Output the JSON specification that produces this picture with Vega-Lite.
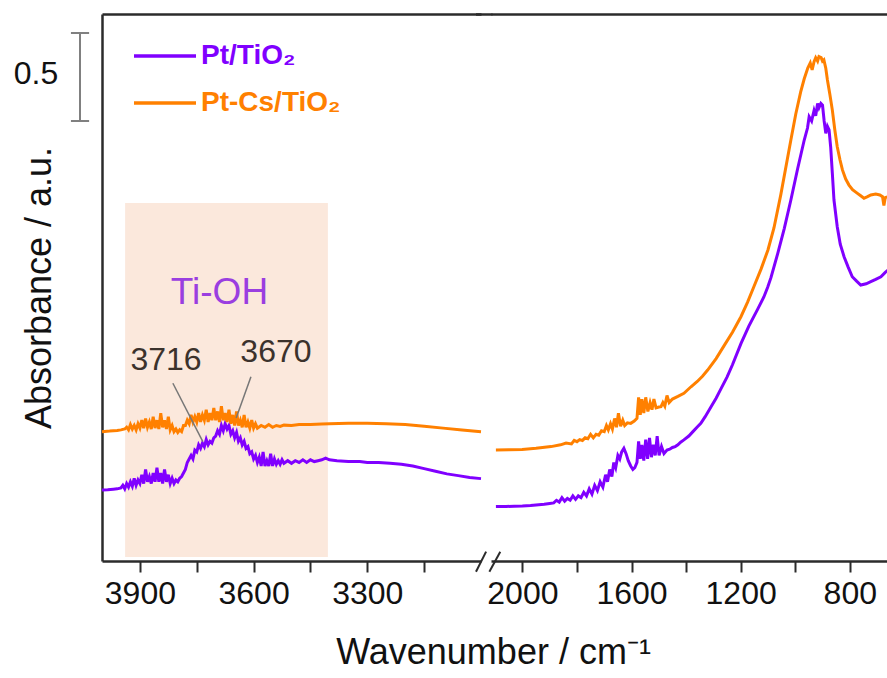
{
  "$schema": "https://vega.github.io/schema/vega-lite/v6.json",
  "padding": {"left": 13, "top": 13, "right": 0, "bottom": 6},
  "background": "white",
  "config": {
    "view": {"stroke": null},
    "font": "Liberation Sans",
    "axis": {"domainColor": "#2b2b2b", "domainWidth": 2.5, "tickColor": "#2b2b2b", "tickWidth": 2, "labelFont": "Liberation Sans", "titleFont": "Liberation Sans", "labelColor": "#111", "titleColor": "#111", "grid": false}
  },
  "datasets": {
    "left": [
      {"w":4000,"a":0.403,"s":"Pt/TiO₂"},{"w":3985,"a":0.405,"s":"Pt/TiO₂"},{"w":3970,"a":0.408,"s":"Pt/TiO₂"},{"w":3960,"a":0.41,"s":"Pt/TiO₂"},{"w":3950,"a":0.415,"s":"Pt/TiO₂"},{"w":3945,"a":0.43,"s":"Pt/TiO₂"},{"w":3940,"a":0.41,"s":"Pt/TiO₂"},{"w":3935,"a":0.44,"s":"Pt/TiO₂"},{"w":3930,"a":0.42,"s":"Pt/TiO₂"},{"w":3925,"a":0.45,"s":"Pt/TiO₂"},{"w":3920,"a":0.425,"s":"Pt/TiO₂"},{"w":3915,"a":0.47,"s":"Pt/TiO₂"},{"w":3910,"a":0.43,"s":"Pt/TiO₂"},{"w":3905,"a":0.46,"s":"Pt/TiO₂"},{"w":3900,"a":0.44,"s":"Pt/TiO₂"},{"w":3895,"a":0.49,"s":"Pt/TiO₂"},{"w":3890,"a":0.44,"s":"Pt/TiO₂"},{"w":3885,"a":0.52,"s":"Pt/TiO₂"},{"w":3880,"a":0.45,"s":"Pt/TiO₂"},{"w":3875,"a":0.48,"s":"Pt/TiO₂"},{"w":3870,"a":0.44,"s":"Pt/TiO₂"},{"w":3865,"a":0.5,"s":"Pt/TiO₂"},{"w":3860,"a":0.45,"s":"Pt/TiO₂"},{"w":3855,"a":0.53,"s":"Pt/TiO₂"},{"w":3850,"a":0.45,"s":"Pt/TiO₂"},{"w":3845,"a":0.5,"s":"Pt/TiO₂"},{"w":3840,"a":0.44,"s":"Pt/TiO₂"},{"w":3835,"a":0.52,"s":"Pt/TiO₂"},{"w":3830,"a":0.45,"s":"Pt/TiO₂"},{"w":3825,"a":0.49,"s":"Pt/TiO₂"},{"w":3820,"a":0.44,"s":"Pt/TiO₂"},{"w":3815,"a":0.47,"s":"Pt/TiO₂"},{"w":3810,"a":0.44,"s":"Pt/TiO₂"},{"w":3805,"a":0.46,"s":"Pt/TiO₂"},{"w":3800,"a":0.45,"s":"Pt/TiO₂"},{"w":3795,"a":0.47,"s":"Pt/TiO₂"},{"w":3790,"a":0.48,"s":"Pt/TiO₂"},{"w":3785,"a":0.5,"s":"Pt/TiO₂"},{"w":3780,"a":0.52,"s":"Pt/TiO₂"},{"w":3775,"a":0.56,"s":"Pt/TiO₂"},{"w":3770,"a":0.58,"s":"Pt/TiO₂"},{"w":3765,"a":0.6,"s":"Pt/TiO₂"},{"w":3760,"a":0.58,"s":"Pt/TiO₂"},{"w":3755,"a":0.63,"s":"Pt/TiO₂"},{"w":3750,"a":0.62,"s":"Pt/TiO₂"},{"w":3745,"a":0.66,"s":"Pt/TiO₂"},{"w":3740,"a":0.64,"s":"Pt/TiO₂"},{"w":3735,"a":0.67,"s":"Pt/TiO₂"},{"w":3730,"a":0.65,"s":"Pt/TiO₂"},{"w":3725,"a":0.69,"s":"Pt/TiO₂"},{"w":3720,"a":0.66,"s":"Pt/TiO₂"},{"w":3715,"a":0.68,"s":"Pt/TiO₂"},{"w":3710,"a":0.67,"s":"Pt/TiO₂"},{"w":3705,"a":0.7,"s":"Pt/TiO₂"},{"w":3700,"a":0.71,"s":"Pt/TiO₂"},{"w":3695,"a":0.74,"s":"Pt/TiO₂"},{"w":3690,"a":0.72,"s":"Pt/TiO₂"},{"w":3685,"a":0.77,"s":"Pt/TiO₂"},{"w":3680,"a":0.74,"s":"Pt/TiO₂"},{"w":3675,"a":0.78,"s":"Pt/TiO₂"},{"w":3670,"a":0.75,"s":"Pt/TiO₂"},{"w":3665,"a":0.77,"s":"Pt/TiO₂"},{"w":3660,"a":0.72,"s":"Pt/TiO₂"},{"w":3655,"a":0.74,"s":"Pt/TiO₂"},{"w":3650,"a":0.7,"s":"Pt/TiO₂"},{"w":3645,"a":0.73,"s":"Pt/TiO₂"},{"w":3640,"a":0.68,"s":"Pt/TiO₂"},{"w":3635,"a":0.7,"s":"Pt/TiO₂"},{"w":3630,"a":0.66,"s":"Pt/TiO₂"},{"w":3625,"a":0.68,"s":"Pt/TiO₂"},{"w":3620,"a":0.64,"s":"Pt/TiO₂"},{"w":3615,"a":0.65,"s":"Pt/TiO₂"},{"w":3610,"a":0.61,"s":"Pt/TiO₂"},{"w":3605,"a":0.62,"s":"Pt/TiO₂"},{"w":3600,"a":0.58,"s":"Pt/TiO₂"},{"w":3595,"a":0.6,"s":"Pt/TiO₂"},{"w":3590,"a":0.56,"s":"Pt/TiO₂"},{"w":3585,"a":0.59,"s":"Pt/TiO₂"},{"w":3580,"a":0.54,"s":"Pt/TiO₂"},{"w":3575,"a":0.62,"s":"Pt/TiO₂"},{"w":3570,"a":0.54,"s":"Pt/TiO₂"},{"w":3565,"a":0.57,"s":"Pt/TiO₂"},{"w":3560,"a":0.54,"s":"Pt/TiO₂"},{"w":3555,"a":0.61,"s":"Pt/TiO₂"},{"w":3550,"a":0.54,"s":"Pt/TiO₂"},{"w":3545,"a":0.58,"s":"Pt/TiO₂"},{"w":3540,"a":0.55,"s":"Pt/TiO₂"},{"w":3535,"a":0.57,"s":"Pt/TiO₂"},{"w":3530,"a":0.55,"s":"Pt/TiO₂"},{"w":3525,"a":0.575,"s":"Pt/TiO₂"},{"w":3520,"a":0.555,"s":"Pt/TiO₂"},{"w":3510,"a":0.57,"s":"Pt/TiO₂"},{"w":3500,"a":0.555,"s":"Pt/TiO₂"},{"w":3490,"a":0.57,"s":"Pt/TiO₂"},{"w":3480,"a":0.56,"s":"Pt/TiO₂"},{"w":3470,"a":0.575,"s":"Pt/TiO₂"},{"w":3460,"a":0.56,"s":"Pt/TiO₂"},{"w":3450,"a":0.575,"s":"Pt/TiO₂"},{"w":3440,"a":0.565,"s":"Pt/TiO₂"},{"w":3430,"a":0.57,"s":"Pt/TiO₂"},{"w":3420,"a":0.575,"s":"Pt/TiO₂"},{"w":3410,"a":0.585,"s":"Pt/TiO₂"},{"w":3400,"a":0.575,"s":"Pt/TiO₂"},{"w":3380,"a":0.57,"s":"Pt/TiO₂"},{"w":3350,"a":0.565,"s":"Pt/TiO₂"},{"w":3320,"a":0.565,"s":"Pt/TiO₂"},{"w":3300,"a":0.56,"s":"Pt/TiO₂"},{"w":3270,"a":0.56,"s":"Pt/TiO₂"},{"w":3240,"a":0.555,"s":"Pt/TiO₂"},{"w":3210,"a":0.55,"s":"Pt/TiO₂"},{"w":3180,"a":0.54,"s":"Pt/TiO₂"},{"w":3150,"a":0.525,"s":"Pt/TiO₂"},{"w":3120,"a":0.51,"s":"Pt/TiO₂"},{"w":3090,"a":0.495,"s":"Pt/TiO₂"},{"w":3060,"a":0.485,"s":"Pt/TiO₂"},{"w":3030,"a":0.475,"s":"Pt/TiO₂"},{"w":3000,"a":0.468,"s":"Pt/TiO₂"},
      {"w":4000,"a":0.735,"s":"Pt-Cs/TiO₂"},{"w":3980,"a":0.738,"s":"Pt-Cs/TiO₂"},{"w":3960,"a":0.742,"s":"Pt-Cs/TiO₂"},{"w":3950,"a":0.745,"s":"Pt-Cs/TiO₂"},{"w":3940,"a":0.75,"s":"Pt-Cs/TiO₂"},{"w":3935,"a":0.76,"s":"Pt-Cs/TiO₂"},{"w":3930,"a":0.745,"s":"Pt-Cs/TiO₂"},{"w":3925,"a":0.775,"s":"Pt-Cs/TiO₂"},{"w":3920,"a":0.75,"s":"Pt-Cs/TiO₂"},{"w":3915,"a":0.77,"s":"Pt-Cs/TiO₂"},{"w":3910,"a":0.745,"s":"Pt-Cs/TiO₂"},{"w":3905,"a":0.78,"s":"Pt-Cs/TiO₂"},{"w":3900,"a":0.755,"s":"Pt-Cs/TiO₂"},{"w":3895,"a":0.8,"s":"Pt-Cs/TiO₂"},{"w":3890,"a":0.755,"s":"Pt-Cs/TiO₂"},{"w":3885,"a":0.81,"s":"Pt-Cs/TiO₂"},{"w":3880,"a":0.76,"s":"Pt-Cs/TiO₂"},{"w":3875,"a":0.79,"s":"Pt-Cs/TiO₂"},{"w":3870,"a":0.75,"s":"Pt-Cs/TiO₂"},{"w":3865,"a":0.82,"s":"Pt-Cs/TiO₂"},{"w":3860,"a":0.755,"s":"Pt-Cs/TiO₂"},{"w":3855,"a":0.8,"s":"Pt-Cs/TiO₂"},{"w":3850,"a":0.75,"s":"Pt-Cs/TiO₂"},{"w":3845,"a":0.84,"s":"Pt-Cs/TiO₂"},{"w":3840,"a":0.76,"s":"Pt-Cs/TiO₂"},{"w":3835,"a":0.8,"s":"Pt-Cs/TiO₂"},{"w":3830,"a":0.75,"s":"Pt-Cs/TiO₂"},{"w":3825,"a":0.82,"s":"Pt-Cs/TiO₂"},{"w":3820,"a":0.745,"s":"Pt-Cs/TiO₂"},{"w":3815,"a":0.77,"s":"Pt-Cs/TiO₂"},{"w":3810,"a":0.735,"s":"Pt-Cs/TiO₂"},{"w":3805,"a":0.75,"s":"Pt-Cs/TiO₂"},{"w":3800,"a":0.73,"s":"Pt-Cs/TiO₂"},{"w":3795,"a":0.745,"s":"Pt-Cs/TiO₂"},{"w":3790,"a":0.735,"s":"Pt-Cs/TiO₂"},{"w":3785,"a":0.77,"s":"Pt-Cs/TiO₂"},{"w":3780,"a":0.77,"s":"Pt-Cs/TiO₂"},{"w":3775,"a":0.8,"s":"Pt-Cs/TiO₂"},{"w":3770,"a":0.78,"s":"Pt-Cs/TiO₂"},{"w":3765,"a":0.83,"s":"Pt-Cs/TiO₂"},{"w":3760,"a":0.79,"s":"Pt-Cs/TiO₂"},{"w":3755,"a":0.82,"s":"Pt-Cs/TiO₂"},{"w":3750,"a":0.79,"s":"Pt-Cs/TiO₂"},{"w":3745,"a":0.84,"s":"Pt-Cs/TiO₂"},{"w":3740,"a":0.79,"s":"Pt-Cs/TiO₂"},{"w":3735,"a":0.83,"s":"Pt-Cs/TiO₂"},{"w":3730,"a":0.8,"s":"Pt-Cs/TiO₂"},{"w":3725,"a":0.86,"s":"Pt-Cs/TiO₂"},{"w":3720,"a":0.79,"s":"Pt-Cs/TiO₂"},{"w":3715,"a":0.84,"s":"Pt-Cs/TiO₂"},{"w":3710,"a":0.8,"s":"Pt-Cs/TiO₂"},{"w":3705,"a":0.87,"s":"Pt-Cs/TiO₂"},{"w":3700,"a":0.8,"s":"Pt-Cs/TiO₂"},{"w":3695,"a":0.85,"s":"Pt-Cs/TiO₂"},{"w":3690,"a":0.79,"s":"Pt-Cs/TiO₂"},{"w":3685,"a":0.88,"s":"Pt-Cs/TiO₂"},{"w":3680,"a":0.8,"s":"Pt-Cs/TiO₂"},{"w":3675,"a":0.84,"s":"Pt-Cs/TiO₂"},{"w":3670,"a":0.79,"s":"Pt-Cs/TiO₂"},{"w":3665,"a":0.86,"s":"Pt-Cs/TiO₂"},{"w":3660,"a":0.78,"s":"Pt-Cs/TiO₂"},{"w":3655,"a":0.83,"s":"Pt-Cs/TiO₂"},{"w":3650,"a":0.77,"s":"Pt-Cs/TiO₂"},{"w":3645,"a":0.85,"s":"Pt-Cs/TiO₂"},{"w":3640,"a":0.77,"s":"Pt-Cs/TiO₂"},{"w":3635,"a":0.8,"s":"Pt-Cs/TiO₂"},{"w":3630,"a":0.76,"s":"Pt-Cs/TiO₂"},{"w":3625,"a":0.83,"s":"Pt-Cs/TiO₂"},{"w":3620,"a":0.76,"s":"Pt-Cs/TiO₂"},{"w":3615,"a":0.79,"s":"Pt-Cs/TiO₂"},{"w":3610,"a":0.755,"s":"Pt-Cs/TiO₂"},{"w":3605,"a":0.8,"s":"Pt-Cs/TiO₂"},{"w":3600,"a":0.755,"s":"Pt-Cs/TiO₂"},{"w":3595,"a":0.78,"s":"Pt-Cs/TiO₂"},{"w":3590,"a":0.755,"s":"Pt-Cs/TiO₂"},{"w":3580,"a":0.77,"s":"Pt-Cs/TiO₂"},{"w":3570,"a":0.76,"s":"Pt-Cs/TiO₂"},{"w":3560,"a":0.775,"s":"Pt-Cs/TiO₂"},{"w":3550,"a":0.76,"s":"Pt-Cs/TiO₂"},{"w":3540,"a":0.77,"s":"Pt-Cs/TiO₂"},{"w":3530,"a":0.765,"s":"Pt-Cs/TiO₂"},{"w":3520,"a":0.772,"s":"Pt-Cs/TiO₂"},{"w":3500,"a":0.77,"s":"Pt-Cs/TiO₂"},{"w":3480,"a":0.775,"s":"Pt-Cs/TiO₂"},{"w":3450,"a":0.775,"s":"Pt-Cs/TiO₂"},{"w":3420,"a":0.778,"s":"Pt-Cs/TiO₂"},{"w":3400,"a":0.78,"s":"Pt-Cs/TiO₂"},{"w":3350,"a":0.782,"s":"Pt-Cs/TiO₂"},{"w":3300,"a":0.782,"s":"Pt-Cs/TiO₂"},{"w":3250,"a":0.78,"s":"Pt-Cs/TiO₂"},{"w":3200,"a":0.775,"s":"Pt-Cs/TiO₂"},{"w":3150,"a":0.765,"s":"Pt-Cs/TiO₂"},{"w":3100,"a":0.755,"s":"Pt-Cs/TiO₂"},{"w":3050,"a":0.745,"s":"Pt-Cs/TiO₂"},{"w":3000,"a":0.735,"s":"Pt-Cs/TiO₂"}
    ],
    "right": [
      {"w":2097,"a":0.309,"s":"Pt/TiO₂"},{"w":2060,"a":0.31,"s":"Pt/TiO₂"},{"w":2030,"a":0.311,"s":"Pt/TiO₂"},{"w":2000,"a":0.312,"s":"Pt/TiO₂"},{"w":1970,"a":0.315,"s":"Pt/TiO₂"},{"w":1940,"a":0.32,"s":"Pt/TiO₂"},{"w":1920,"a":0.322,"s":"Pt/TiO₂"},{"w":1900,"a":0.327,"s":"Pt/TiO₂"},{"w":1885,"a":0.33,"s":"Pt/TiO₂"},{"w":1875,"a":0.345,"s":"Pt/TiO₂"},{"w":1865,"a":0.335,"s":"Pt/TiO₂"},{"w":1855,"a":0.36,"s":"Pt/TiO₂"},{"w":1845,"a":0.34,"s":"Pt/TiO₂"},{"w":1835,"a":0.355,"s":"Pt/TiO₂"},{"w":1825,"a":0.345,"s":"Pt/TiO₂"},{"w":1815,"a":0.37,"s":"Pt/TiO₂"},{"w":1805,"a":0.35,"s":"Pt/TiO₂"},{"w":1795,"a":0.37,"s":"Pt/TiO₂"},{"w":1785,"a":0.36,"s":"Pt/TiO₂"},{"w":1775,"a":0.39,"s":"Pt/TiO₂"},{"w":1765,"a":0.37,"s":"Pt/TiO₂"},{"w":1755,"a":0.41,"s":"Pt/TiO₂"},{"w":1745,"a":0.38,"s":"Pt/TiO₂"},{"w":1735,"a":0.43,"s":"Pt/TiO₂"},{"w":1725,"a":0.4,"s":"Pt/TiO₂"},{"w":1715,"a":0.45,"s":"Pt/TiO₂"},{"w":1705,"a":0.42,"s":"Pt/TiO₂"},{"w":1695,"a":0.49,"s":"Pt/TiO₂"},{"w":1688,"a":0.45,"s":"Pt/TiO₂"},{"w":1680,"a":0.52,"s":"Pt/TiO₂"},{"w":1672,"a":0.48,"s":"Pt/TiO₂"},{"w":1665,"a":0.56,"s":"Pt/TiO₂"},{"w":1658,"a":0.53,"s":"Pt/TiO₂"},{"w":1650,"a":0.6,"s":"Pt/TiO₂"},{"w":1643,"a":0.58,"s":"Pt/TiO₂"},{"w":1636,"a":0.62,"s":"Pt/TiO₂"},{"w":1628,"a":0.64,"s":"Pt/TiO₂"},{"w":1620,"a":0.61,"s":"Pt/TiO₂"},{"w":1612,"a":0.57,"s":"Pt/TiO₂"},{"w":1603,"a":0.54,"s":"Pt/TiO₂"},{"w":1595,"a":0.52,"s":"Pt/TiO₂"},{"w":1588,"a":0.53,"s":"Pt/TiO₂"},{"w":1580,"a":0.56,"s":"Pt/TiO₂"},{"w":1574,"a":0.68,"s":"Pt/TiO₂"},{"w":1568,"a":0.58,"s":"Pt/TiO₂"},{"w":1562,"a":0.66,"s":"Pt/TiO₂"},{"w":1555,"a":0.57,"s":"Pt/TiO₂"},{"w":1548,"a":0.69,"s":"Pt/TiO₂"},{"w":1541,"a":0.58,"s":"Pt/TiO₂"},{"w":1534,"a":0.7,"s":"Pt/TiO₂"},{"w":1527,"a":0.59,"s":"Pt/TiO₂"},{"w":1520,"a":0.66,"s":"Pt/TiO₂"},{"w":1513,"a":0.6,"s":"Pt/TiO₂"},{"w":1506,"a":0.71,"s":"Pt/TiO₂"},{"w":1499,"a":0.6,"s":"Pt/TiO₂"},{"w":1490,"a":0.65,"s":"Pt/TiO₂"},{"w":1481,"a":0.61,"s":"Pt/TiO₂"},{"w":1470,"a":0.63,"s":"Pt/TiO₂"},{"w":1460,"a":0.635,"s":"Pt/TiO₂"},{"w":1450,"a":0.645,"s":"Pt/TiO₂"},{"w":1440,"a":0.65,"s":"Pt/TiO₂"},{"w":1430,"a":0.66,"s":"Pt/TiO₂"},{"w":1420,"a":0.675,"s":"Pt/TiO₂"},{"w":1408,"a":0.688,"s":"Pt/TiO₂"},{"w":1390,"a":0.71,"s":"Pt/TiO₂"},{"w":1375,"a":0.735,"s":"Pt/TiO₂"},{"w":1360,"a":0.76,"s":"Pt/TiO₂"},{"w":1346,"a":0.782,"s":"Pt/TiO₂"},{"w":1330,"a":0.82,"s":"Pt/TiO₂"},{"w":1309,"a":0.875,"s":"Pt/TiO₂"},{"w":1290,"a":0.925,"s":"Pt/TiO₂"},{"w":1270,"a":0.985,"s":"Pt/TiO₂"},{"w":1250,"a":1.045,"s":"Pt/TiO₂"},{"w":1230,"a":1.115,"s":"Pt/TiO₂"},{"w":1199,"a":1.235,"s":"Pt/TiO₂"},{"w":1170,"a":1.335,"s":"Pt/TiO₂"},{"w":1138,"a":1.43,"s":"Pt/TiO₂"},{"w":1115,"a":1.5,"s":"Pt/TiO₂"},{"w":1101,"a":1.555,"s":"Pt/TiO₂"},{"w":1089,"a":1.61,"s":"Pt/TiO₂"},{"w":1064,"a":1.748,"s":"Pt/TiO₂"},{"w":1040,"a":1.89,"s":"Pt/TiO₂"},{"w":1016,"a":2.051,"s":"Pt/TiO₂"},{"w":991,"a":2.23,"s":"Pt/TiO₂"},{"w":967,"a":2.392,"s":"Pt/TiO₂"},{"w":955,"a":2.46,"s":"Pt/TiO₂"},{"w":949,"a":2.524,"s":"Pt/TiO₂"},{"w":940,"a":2.5,"s":"Pt/TiO₂"},{"w":931,"a":2.56,"s":"Pt/TiO₂"},{"w":925,"a":2.53,"s":"Pt/TiO₂"},{"w":918,"a":2.6,"s":"Pt/TiO₂"},{"w":913,"a":2.575,"s":"Pt/TiO₂"},{"w":906,"a":2.6,"s":"Pt/TiO₂"},{"w":900,"a":2.59,"s":"Pt/TiO₂"},{"w":894,"a":2.5,"s":"Pt/TiO₂"},{"w":888,"a":2.43,"s":"Pt/TiO₂"},{"w":882,"a":2.47,"s":"Pt/TiO₂"},{"w":876,"a":2.45,"s":"Pt/TiO₂"},{"w":870,"a":2.35,"s":"Pt/TiO₂"},{"w":864,"a":2.203,"s":"Pt/TiO₂"},{"w":858,"a":2.051,"s":"Pt/TiO₂"},{"w":846,"a":1.899,"s":"Pt/TiO₂"},{"w":835,"a":1.8,"s":"Pt/TiO₂"},{"w":821,"a":1.729,"s":"Pt/TiO₂"},{"w":806,"a":1.67,"s":"Pt/TiO₂"},{"w":791,"a":1.615,"s":"Pt/TiO₂"},{"w":775,"a":1.59,"s":"Pt/TiO₂"},{"w":760,"a":1.568,"s":"Pt/TiO₂"},{"w":740,"a":1.575,"s":"Pt/TiO₂"},{"w":723,"a":1.587,"s":"Pt/TiO₂"},{"w":705,"a":1.6,"s":"Pt/TiO₂"},{"w":686,"a":1.615,"s":"Pt/TiO₂"},{"w":670,"a":1.64,"s":"Pt/TiO₂"},{"w":660,"a":1.653,"s":"Pt/TiO₂"},
      {"w":2097,"a":0.631,"s":"Pt-Cs/TiO₂"},{"w":2050,"a":0.632,"s":"Pt-Cs/TiO₂"},{"w":2001,"a":0.634,"s":"Pt-Cs/TiO₂"},{"w":1950,"a":0.64,"s":"Pt-Cs/TiO₂"},{"w":1895,"a":0.65,"s":"Pt-Cs/TiO₂"},{"w":1860,"a":0.66,"s":"Pt-Cs/TiO₂"},{"w":1840,"a":0.67,"s":"Pt-Cs/TiO₂"},{"w":1820,"a":0.665,"s":"Pt-Cs/TiO₂"},{"w":1810,"a":0.685,"s":"Pt-Cs/TiO₂"},{"w":1800,"a":0.678,"s":"Pt-Cs/TiO₂"},{"w":1790,"a":0.69,"s":"Pt-Cs/TiO₂"},{"w":1780,"a":0.685,"s":"Pt-Cs/TiO₂"},{"w":1770,"a":0.7,"s":"Pt-Cs/TiO₂"},{"w":1760,"a":0.695,"s":"Pt-Cs/TiO₂"},{"w":1750,"a":0.72,"s":"Pt-Cs/TiO₂"},{"w":1740,"a":0.7,"s":"Pt-Cs/TiO₂"},{"w":1730,"a":0.72,"s":"Pt-Cs/TiO₂"},{"w":1720,"a":0.715,"s":"Pt-Cs/TiO₂"},{"w":1710,"a":0.74,"s":"Pt-Cs/TiO₂"},{"w":1700,"a":0.735,"s":"Pt-Cs/TiO₂"},{"w":1692,"a":0.77,"s":"Pt-Cs/TiO₂"},{"w":1685,"a":0.745,"s":"Pt-Cs/TiO₂"},{"w":1677,"a":0.78,"s":"Pt-Cs/TiO₂"},{"w":1670,"a":0.75,"s":"Pt-Cs/TiO₂"},{"w":1662,"a":0.81,"s":"Pt-Cs/TiO₂"},{"w":1655,"a":0.76,"s":"Pt-Cs/TiO₂"},{"w":1648,"a":0.84,"s":"Pt-Cs/TiO₂"},{"w":1640,"a":0.765,"s":"Pt-Cs/TiO₂"},{"w":1632,"a":0.8,"s":"Pt-Cs/TiO₂"},{"w":1625,"a":0.77,"s":"Pt-Cs/TiO₂"},{"w":1615,"a":0.785,"s":"Pt-Cs/TiO₂"},{"w":1603,"a":0.782,"s":"Pt-Cs/TiO₂"},{"w":1590,"a":0.795,"s":"Pt-Cs/TiO₂"},{"w":1580,"a":0.81,"s":"Pt-Cs/TiO₂"},{"w":1574,"a":0.93,"s":"Pt-Cs/TiO₂"},{"w":1568,"a":0.83,"s":"Pt-Cs/TiO₂"},{"w":1562,"a":0.92,"s":"Pt-Cs/TiO₂"},{"w":1555,"a":0.84,"s":"Pt-Cs/TiO₂"},{"w":1548,"a":0.93,"s":"Pt-Cs/TiO₂"},{"w":1540,"a":0.85,"s":"Pt-Cs/TiO₂"},{"w":1532,"a":0.9,"s":"Pt-Cs/TiO₂"},{"w":1525,"a":0.86,"s":"Pt-Cs/TiO₂"},{"w":1518,"a":0.92,"s":"Pt-Cs/TiO₂"},{"w":1510,"a":0.87,"s":"Pt-Cs/TiO₂"},{"w":1500,"a":0.875,"s":"Pt-Cs/TiO₂"},{"w":1492,"a":0.877,"s":"Pt-Cs/TiO₂"},{"w":1485,"a":0.9,"s":"Pt-Cs/TiO₂"},{"w":1478,"a":0.88,"s":"Pt-Cs/TiO₂"},{"w":1470,"a":0.94,"s":"Pt-Cs/TiO₂"},{"w":1462,"a":0.9,"s":"Pt-Cs/TiO₂"},{"w":1450,"a":0.92,"s":"Pt-Cs/TiO₂"},{"w":1430,"a":0.935,"s":"Pt-Cs/TiO₂"},{"w":1408,"a":0.953,"s":"Pt-Cs/TiO₂"},{"w":1382,"a":0.99,"s":"Pt-Cs/TiO₂"},{"w":1359,"a":1.02,"s":"Pt-Cs/TiO₂"},{"w":1340,"a":1.05,"s":"Pt-Cs/TiO₂"},{"w":1321,"a":1.085,"s":"Pt-Cs/TiO₂"},{"w":1290,"a":1.15,"s":"Pt-Cs/TiO₂"},{"w":1260,"a":1.225,"s":"Pt-Cs/TiO₂"},{"w":1230,"a":1.3,"s":"Pt-Cs/TiO₂"},{"w":1199,"a":1.388,"s":"Pt-Cs/TiO₂"},{"w":1175,"a":1.47,"s":"Pt-Cs/TiO₂"},{"w":1152,"a":1.557,"s":"Pt-Cs/TiO₂"},{"w":1125,"a":1.66,"s":"Pt-Cs/TiO₂"},{"w":1100,"a":1.767,"s":"Pt-Cs/TiO₂"},{"w":1078,"a":1.892,"s":"Pt-Cs/TiO₂"},{"w":1053,"a":2.08,"s":"Pt-Cs/TiO₂"},{"w":1016,"a":2.392,"s":"Pt-Cs/TiO₂"},{"w":998,"a":2.54,"s":"Pt-Cs/TiO₂"},{"w":980,"a":2.665,"s":"Pt-Cs/TiO₂"},{"w":967,"a":2.74,"s":"Pt-Cs/TiO₂"},{"w":954,"a":2.801,"s":"Pt-Cs/TiO₂"},{"w":945,"a":2.83,"s":"Pt-Cs/TiO₂"},{"w":938,"a":2.79,"s":"Pt-Cs/TiO₂"},{"w":931,"a":2.837,"s":"Pt-Cs/TiO₂"},{"w":925,"a":2.86,"s":"Pt-Cs/TiO₂"},{"w":918,"a":2.84,"s":"Pt-Cs/TiO₂"},{"w":913,"a":2.866,"s":"Pt-Cs/TiO₂"},{"w":905,"a":2.86,"s":"Pt-Cs/TiO₂"},{"w":900,"a":2.84,"s":"Pt-Cs/TiO₂"},{"w":895,"a":2.847,"s":"Pt-Cs/TiO₂"},{"w":888,"a":2.8,"s":"Pt-Cs/TiO₂"},{"w":882,"a":2.733,"s":"Pt-Cs/TiO₂"},{"w":873,"a":2.65,"s":"Pt-Cs/TiO₂"},{"w":864,"a":2.562,"s":"Pt-Cs/TiO₂"},{"w":855,"a":2.45,"s":"Pt-Cs/TiO₂"},{"w":846,"a":2.354,"s":"Pt-Cs/TiO₂"},{"w":836,"a":2.28,"s":"Pt-Cs/TiO₂"},{"w":827,"a":2.222,"s":"Pt-Cs/TiO₂"},{"w":815,"a":2.17,"s":"Pt-Cs/TiO₂"},{"w":803,"a":2.136,"s":"Pt-Cs/TiO₂"},{"w":790,"a":2.11,"s":"Pt-Cs/TiO₂"},{"w":772,"a":2.089,"s":"Pt-Cs/TiO₂"},{"w":760,"a":2.075,"s":"Pt-Cs/TiO₂"},{"w":748,"a":2.061,"s":"Pt-Cs/TiO₂"},{"w":735,"a":2.07,"s":"Pt-Cs/TiO₂"},{"w":723,"a":2.08,"s":"Pt-Cs/TiO₂"},{"w":705,"a":2.085,"s":"Pt-Cs/TiO₂"},{"w":690,"a":2.08,"s":"Pt-Cs/TiO₂"},{"w":680,"a":2.07,"s":"Pt-Cs/TiO₂"},{"w":675,"a":2.02,"s":"Pt-Cs/TiO₂"},{"w":670,"a":2.065,"s":"Pt-Cs/TiO₂"},{"w":660,"a":2.07,"s":"Pt-Cs/TiO₂"}
    ]
  },
  "hconcat": [
    {
      "width": 379,
      "height": 547,
      "resolve": {"axis": {"x": "independent", "y": "independent"}},
      "layer": [
        {
          "data": {"values": [{"w1": 3939, "w2": 3404, "a1": 0.023, "a2": 2.034}]},
          "mark": {"type": "rect", "color": "#fbe8dc"},
          "encoding": {
            "x": {"field": "w1", "type": "quantitative", "scale": {"domain": [3000, 4000], "reverse": true, "nice": false, "zero": false},
              "axis": {"orient": "bottom", "title": null, "values": [3900, 3750, 3600, 3450, 3300, 3150], "format": "d",
                "labelExpr": "datum.value % 300 === 0 ? datum.label : ''", "labelFontSize": 32, "labelPadding": 6, "tickSize": 11,
                "encode": {"ticks": {"update": {"y2": {"signal": "datum.value % 300 === 0 ? 11 : 6"}}}}}},
            "x2": {"field": "w2"},
            "y": {"field": "a1", "type": "quantitative", "scale": {"domain": [0, 3.108], "nice": false, "zero": false},
              "axis": {"orient": "left", "title": "Absorbance / a.u.", "labels": false, "ticks": false, "titleFontSize": 36, "titleFontWeight": "normal", "titlePadding": 44}},
            "y2": {"field": "a2"}
          }
        },
        {
          "data": {"name": "left"},
          "mark": {"type": "line", "strokeWidth": 3, "clip": false},
          "encoding": {
            "x": {"field": "w", "type": "quantitative", "axis": null},
            "y": {"field": "a", "type": "quantitative", "axis": null},
            "color": {"field": "s", "type": "nominal", "sort": null,
              "scale": {"domain": ["Pt/TiO₂", "Pt-Cs/TiO₂"], "range": ["#8000ff", "#ff8000"]},
              "legend": {"orient": "none", "legendX": 30, "legendY": 9, "title": null, "symbolType": "stroke", "symbolSize": 3844, "symbolStrokeWidth": 3.5,
                "labelFontSize": 28, "labelFontWeight": "bold", "labelFont": "Liberation Sans", "labelOffset": 3, "rowPadding": -2, "padding": 0,
                "labelLimit": 400,
                "encode": {"labels": {"update": {"fill": {"signal": "datum.value === 'Pt/TiO₂' ? '#8000ff' : '#ff8000'"}}}}}}
          }
        },
        {
          "data": {"values": [{"w1": 3813, "a1": 1.01, "w2": 3734, "a2": 0.678}, {"w1": 3607, "a1": 1.047, "w2": 3646, "a2": 0.812}]},
          "mark": {"type": "rule", "color": "#777", "strokeWidth": 1.5},
          "encoding": {
            "x": {"field": "w1", "type": "quantitative", "axis": null},
            "y": {"field": "a1", "type": "quantitative", "axis": null},
            "x2": {"field": "w2"},
            "y2": {"field": "a2"}
          }
        },
        {
          "data": {"values": [{"w": 3831, "a": 1.142, "t": "3716"}, {"w": 3541, "a": 1.19, "t": "3670"}]},
          "mark": {"type": "text", "fontSize": 32, "color": "#3b322c", "align": "center", "baseline": "middle"},
          "encoding": {
            "x": {"field": "w", "type": "quantitative", "axis": null},
            "y": {"field": "a", "type": "quantitative", "axis": null},
            "text": {"field": "t"}
          }
        },
        {
          "data": {"values": [{"w": 3690, "a": 1.52, "t": "Ti-OH"}]},
          "mark": {"type": "text", "fontSize": 37, "color": "#9a3ee0", "align": "center", "baseline": "middle"},
          "encoding": {
            "x": {"field": "w", "type": "quantitative", "axis": null},
            "y": {"field": "a", "type": "quantitative", "axis": null},
            "text": {"field": "t"}
          }
        },
        {
          "data": {"values": [{"w": 4058, "a1": 2.5, "a2": 3.0}]},
          "mark": {"type": "rule", "color": "#808080", "strokeWidth": 2, "clip": false},
          "encoding": {
            "x": {"field": "w", "type": "quantitative",
              "axis": {"orient": "top", "title": null, "labels": false, "ticks": false, "domain": true}},
            "y": {"field": "a1", "type": "quantitative", "axis": null},
            "y2": {"field": "a2"}
          }
        },
        {
          "data": {"values": [{"w1": 4082, "w2": 4034, "a": 2.5}, {"w1": 4082, "w2": 4034, "a": 3.0}]},
          "mark": {"type": "rule", "color": "#808080", "strokeWidth": 2, "clip": false},
          "encoding": {
            "x": {"field": "w1", "type": "quantitative", "axis": null},
            "x2": {"field": "w2"},
            "y": {"field": "a", "type": "quantitative", "axis": null}
          }
        },
        {
          "data": {"values": [{"w": 4174, "a": 2.767, "t": "0.5"}]},
          "mark": {"type": "text", "fontSize": 32, "color": "#111", "align": "center", "baseline": "middle", "clip": false},
          "encoding": {
            "x": {"field": "w", "type": "quantitative", "axis": null},
            "y": {"field": "a", "type": "quantitative", "axis": null},
            "text": {"field": "t"}
          }
        }
      ]
    },
    {
      "width": 397,
      "height": 547,
      "resolve": {"axis": {"x": "independent"}},
      "layer": [
        {
          "data": {"name": "right"},
          "mark": {"type": "line", "strokeWidth": 3, "clip": false},
          "encoding": {
            "x": {"field": "w", "type": "quantitative", "scale": {"domain": [660, 2115], "reverse": true, "nice": false, "zero": false},
              "axis": {"orient": "bottom", "title": "Wavenumber / cm⁻¹", "values": [2000, 1800, 1600, 1400, 1200, 1000, 800], "format": "d",
                "labelExpr": "datum.value % 400 === 0 ? datum.label : ''", "labelFontSize": 32, "labelPadding": 6, "tickSize": 11,
                "encode": {"ticks": {"update": {"y2": {"signal": "datum.value % 400 === 0 ? 11 : 6"}}}},
                "titleFontSize": 36, "titleFontWeight": "normal", "titleX": 2, "titleY": 91, "titleAlign": "center", "titleBaseline": "middle", "titleAnchor": null}},
            "y": {"field": "a", "type": "quantitative", "scale": {"domain": [0, 3.108], "nice": false, "zero": false}, "axis": null},
            "color": {"field": "s", "type": "nominal", "sort": null, "legend": null}
          }
        },
        {
          "data": {"values": [{"w1": 2170, "a1": -0.061, "w2": 2133, "a2": 0.053}, {"w1": 2121, "a1": -0.061, "w2": 2081, "a2": 0.053}]},
          "mark": {"type": "rule", "color": "#2b2b2b", "strokeWidth": 2, "clip": false},
          "encoding": {
            "x": {"field": "w1", "type": "quantitative", "axis": {"orient": "top", "title": null, "labels": false, "ticks": false, "domain": true}},
            "y": {"field": "a1", "type": "quantitative", "axis": null},
            "x2": {"field": "w2"},
            "y2": {"field": "a2"}
          }
        },
        {
          "data": {"values": [{"w1": 2170, "w2": 2110, "a": 3.1052}]},
          "mark": {"type": "rule", "color": "#2b2b2b", "strokeWidth": 2.5, "clip": false},
          "encoding": {
            "x": {"field": "w1", "type": "quantitative", "axis": null},
            "x2": {"field": "w2"},
            "y": {"field": "a", "type": "quantitative", "axis": null}
          }
        }
      ]
    }
  ],
  "spacing": 10,
  "bounds": "flush",
  "resolve": {"scale": {"x": "independent"}}
}
